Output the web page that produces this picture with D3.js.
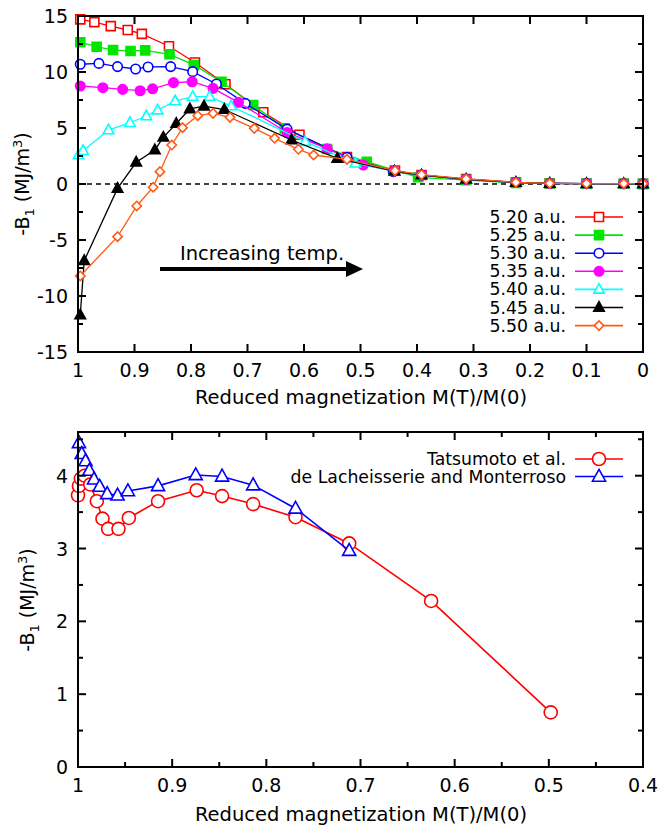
<!DOCTYPE html>
<html><head><meta charset="utf-8">
<script src="https://cdn.jsdelivr.net/npm/d3@7"></script>
<style>body{margin:0;background:#fff} text{font-family:"DejaVu Sans",sans-serif;fill:#000}</style>
</head><body>
<script>
// ---------- Top panel data ----------
const topNames = ["5.20 a.u.","5.25 a.u.","5.30 a.u.","5.35 a.u.","5.40 a.u.","5.45 a.u.","5.50 a.u."];
const x520 = [0.996,0.971,0.942,0.912,0.887,0.839,0.793,0.739,0.672,0.608,0.524,0.439,0.392,0.313,0.225,0.165,0.100,0.034,0.0];
const y520 = [14.7,14.45,14.1,13.75,13.4,12.3,10.85,8.9,6.4,4.4,2.4,1.2,0.8,0.45,0.15,0.06,0.03,0.02,0.01];
const x525 = [0.996,0.967,0.938,0.907,0.881,0.838,0.795,0.746,0.690,0.634,0.559,0.489,0.398,0.313,0.225,0.165,0.100,0.034,0.0];
const y525 = [12.65,12.26,11.96,11.88,11.93,11.58,10.63,9.13,7.05,4.97,3.13,1.99,0.6,0.35,0.1,0.05,0.03,0.02,0.01];
const x530 = [0.996,0.963,0.930,0.898,0.876,0.836,0.797,0.755,0.704,0.630,0.524,0.442,0.392,0.313,0.225,0.165,0.100,0.034,0.0];
const y530 = [10.69,10.77,10.48,10.27,10.45,10.48,10.03,8.93,7.2,4.9,2.38,1.1,0.8,0.42,0.14,0.06,0.03,0.02,0.01];
const x535 = [0.996,0.956,0.921,0.890,0.868,0.831,0.798,0.761,0.716,0.630,0.559,0.495,0.440,0.392,0.313,0.225,0.165,0.100,0.034,0.0];
const y535 = [8.75,8.6,8.45,8.33,8.5,9.05,9.13,8.54,7.29,4.6,3.15,1.7,1.15,0.8,0.42,0.14,0.06,0.03,0.02,0.01];
const x540 = [0.999,0.991,0.946,0.908,0.879,0.859,0.828,0.797,0.767,0.729,0.598,0.509,0.440,0.392,0.313,0.225,0.165,0.100,0.034,0.0];
const y540 = [2.59,2.97,4.82,5.47,6.07,6.6,7.41,7.8,7.8,6.96,3.78,1.85,1.15,0.8,0.42,0.14,0.06,0.03,0.02,0.01];
const x545 = [0.996,0.989,0.930,0.897,0.864,0.849,0.826,0.802,0.777,0.741,0.622,0.541,0.440,0.392,0.313,0.225,0.165,0.100,0.034,0.0];
const y545 = [-11.7,-6.85,-0.39,1.94,3.04,4.17,5.4,6.7,6.95,6.65,3.93,2.29,1.15,0.8,0.42,0.14,0.06,0.03,0.02,0.01];
const x550 = [0.996,0.930,0.896,0.867,0.855,0.834,0.815,0.788,0.761,0.731,0.688,0.652,0.610,0.583,0.524,0.439,0.392,0.313,0.225,0.165,0.100,0.034,0.0];
const y550 = [-8.21,-4.7,-1.96,-0.29,1.1,3.48,5.03,6.1,6.31,5.95,4.97,4.08,3.1,2.59,2.2,1.19,0.83,0.45,0.15,0.06,0.03,0.03,0.03];
const topXTicks = [1,0.9,0.8,0.7,0.6,0.5,0.4,0.3,0.2,0.1,0];
const topYTicks = [-15,-10,-5,0,5,10,15];

// ---------- Bottom panel data ----------
const botNames = ["Tatsumoto et al.","de Lacheisserie and Monterroso"];
const xTat = [1.0,0.999,0.997,0.993,0.987,0.980,0.974,0.968,0.957,0.946,0.915,0.874,0.847,0.814,0.769,0.712,0.625,0.498];
const yTat = [3.73,3.86,3.96,4.0,3.88,3.65,3.41,3.27,3.27,3.42,3.65,3.80,3.72,3.61,3.43,3.07,2.28,0.75];
const xDeL = [0.999,0.996,0.992,0.988,0.983,0.977,0.969,0.958,0.947,0.915,0.875,0.847,0.814,0.769,0.712];
const yDeL = [4.45,4.3,4.2,4.07,3.95,3.85,3.75,3.73,3.79,3.86,4.01,3.99,3.87,3.55,2.97];
const botXTicks = [1,0.9,0.8,0.7,0.6,0.5,0.4];
const botYTicks = [0,1,2,3,4];

const FS = 19, FL = 19.5, FLEG = 17.3;
const W = 661, H = 825;
const svg = d3.select("body").append("svg").attr("width",W).attr("height",H);

function markerPath(type, s){
  const h = s/2;
  switch(type){
    case "square": return `M${-h},${-h}H${h}V${h}H${-h}Z`;
    case "circle": return `M${h},0A${h},${h} 0 1,1 ${-h},0A${h},${h} 0 1,1 ${h},0Z`;
    case "triangle": return `M0,${-h*1.15}L${h*1.05},${h*0.75}L${-h*1.05},${h*0.75}Z`;
    case "diamond": return `M0,${-h*1.1}L${h*1.1},0L0,${h*1.1}L${-h*1.1},0Z`;
  }
}

function drawMarker(g, x, y, m){
  g.append("path").attr("d", markerPath(m.shape, m.size))
    .attr("transform", `translate(${x},${y})`)
    .attr("fill", m.filled ? m.color : "#fff")
    .attr("stroke", m.color).attr("stroke-width", 1.6);
}

function frame(g, x, y, xTicks, yTicks, xMinor, yMinor, fmtX){
  const [x0,x1] = x.range(), [y0,y1] = y.range();
  const ax = g.append("g");
  const tk = (v, len, isX) => {
    if(isX){
      const px = x(v);
      ax.append("line").attr("x1",px).attr("x2",px).attr("y1",y0).attr("y2",y0-len).attr("stroke","#000").attr("stroke-width",2);
      ax.append("line").attr("x1",px).attr("x2",px).attr("y1",y1).attr("y2",y1+len).attr("stroke","#000").attr("stroke-width",2);
    } else {
      const py = y(v);
      ax.append("line").attr("x1",x0).attr("x2",x0+len).attr("y1",py).attr("y2",py).attr("stroke","#000").attr("stroke-width",2);
      ax.append("line").attr("x1",x1).attr("x2",x1-len).attr("y1",py).attr("y2",py).attr("stroke","#000").attr("stroke-width",2);
    }
  };
  xTicks.forEach(v=>tk(v,8,true));
  xMinor.forEach(v=>tk(v,5,true));
  yTicks.forEach(v=>tk(v,8,false));
  yMinor.forEach(v=>tk(v,5,false));
  ax.append("rect").attr("x",x0).attr("y",y1).attr("width",x1-x0).attr("height",y0-y1)
    .attr("fill","none").attr("stroke","#000").attr("stroke-width",2);
  xTicks.forEach(v=>{
    ax.append("text").attr("x",x(v)).attr("y",y0+25).attr("text-anchor","middle")
      .attr("font-size",FS).text(fmtX(v));
  });
  yTicks.forEach(v=>{
    ax.append("text").attr("x",x0-10).attr("y",y(v)+7).attr("text-anchor","end")
      .attr("font-size",FS).text(v);
  });
}

function yLabel(g, cx, cy){
  const t = g.append("text").attr("transform",`translate(${cx},${cy}) rotate(-90)`)
    .attr("text-anchor","middle").attr("font-size",FS);
  t.append("tspan").text("-B");
  t.append("tspan").attr("font-size",13).attr("dy",5).text("1");
  t.append("tspan").attr("dy",-5).text(" (MJ/m");
  t.append("tspan").attr("font-size",13).attr("dy",-7).text("3");
  t.append("tspan").attr("dy",7).text(")");
}

function drawSeries(g, x, y, xs, ys, m, lw){
  const line = d3.line().x(d=>x(d[0])).y(d=>y(d[1]));
  const pts = xs.map((v,i)=>[v,ys[i]]);
  g.append("path").attr("d",line(pts)).attr("fill","none").attr("stroke",m.color).attr("stroke-width",lw);
  pts.forEach(p=>drawMarker(g, x(p[0]), y(p[1]), m));
}

// ================= TOP PANEL =================
{
  const g = svg.append("g");
  const x = d3.scaleLinear().domain([1,0]).range([78,643]);
  const y = d3.scaleLinear().domain([-15,15]).range([352,16]);
  const marks = [
    {shape:"square", filled:false, color:"#ff0000", size:9},
    {shape:"square", filled:true,  color:"#00e600", size:9},
    {shape:"circle", filled:false, color:"#0000ff", size:9.5},
    {shape:"circle", filled:true,  color:"#ff00ff", size:9.5},
    {shape:"triangle", filled:false, color:"#00ffff", size:10},
    {shape:"triangle", filled:true,  color:"#000000", size:10},
    {shape:"diamond", filled:false, color:"#ff5a14", size:8.5}
  ];
  const xsAll = [x520,x525,x530,x535,x540,x545,x550];
  const ysAll = [y520,y525,y530,y535,y540,y545,y550];
  g.append("line").attr("x1",x(1)).attr("x2",x(0)).attr("y1",y(0)).attr("y2",y(0))
    .attr("stroke","#000").attr("stroke-width",1.5).attr("stroke-dasharray","5,4");
  xsAll.forEach((xs,i)=>drawSeries(g, x, y, xs, ysAll[i], marks[i], 1.3));
  frame(g, x, y, topXTicks, topYTicks, [], [-12.5,-7.5,-2.5,2.5,7.5,12.5], v=>v===0?"0":(v===1?"1":d3.format(".1f")(v)));
  topNames.forEach((n,i)=>{
    const ly = 217 + i*18.1;
    g.append("text").attr("x",566).attr("y",ly+6).attr("text-anchor","end").attr("font-size",FLEG).text(n);
    g.append("line").attr("x1",575).attr("x2",623).attr("y1",ly).attr("y2",ly).attr("stroke",marks[i].color).attr("stroke-width",1.6);
    drawMarker(g, 599, ly, marks[i]);
  });
  g.append("text").attr("x",180).attr("y",260).attr("font-size",FL).text("Increasing temp.");
  g.append("line").attr("x1",160).attr("x2",350).attr("y1",269).attr("y2",269).attr("stroke","#000").attr("stroke-width",4);
  g.append("path").attr("d","M346,261L363,269L346,277Z").attr("fill","#000");
  g.append("text").attr("x",361).attr("y",404).attr("text-anchor","middle").attr("font-size",FL).text("Reduced magnetization M(T)/M(0)");
  yLabel(g, 29, 184);
}

// ================= BOTTOM PANEL =================
{
  const g = svg.append("g");
  const x = d3.scaleLinear().domain([1,0.4]).range([78,643]);
  const y = d3.scaleLinear().domain([0,4.6]).range([767,432]);
  const marks = [
    {shape:"circle", filled:false, color:"#ff0000", size:13},
    {shape:"triangle", filled:false, color:"#0000ff", size:12.5}
  ];
  drawSeries(g, x, y, xTat, yTat, marks[0], 1.6);
  drawSeries(g, x, y, xDeL, yDeL, marks[1], 1.6);
  frame(g, x, y, botXTicks, botYTicks, [0.95,0.85,0.75,0.65,0.55,0.45], [0.5,1.5,2.5,3.5,4.5], v=>v===1?"1":d3.format(".1f")(v));
  botNames.forEach((n,i)=>{
    const ly = 459 + i*17.5;
    g.append("text").attr("x",566).attr("y",ly+6).attr("text-anchor","end").attr("font-size",FLEG).text(n);
    g.append("line").attr("x1",575).attr("x2",623).attr("y1",ly).attr("y2",ly).attr("stroke",marks[i].color).attr("stroke-width",1.6);
    drawMarker(g, 599, ly, marks[i]);
  });
  g.append("text").attr("x",361).attr("y",821).attr("text-anchor","middle").attr("font-size",FL).text("Reduced magnetization M(T)/M(0)");
  yLabel(g, 34, 600);
}
</script>
</body></html>
